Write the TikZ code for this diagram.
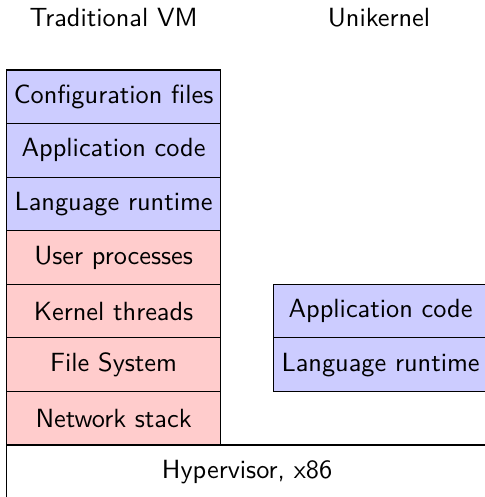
\documentclass[tikz,border=0pt]{standalone}
\begin{document}
\begin{tikzpicture}[x=0.38pt,y=-0.38pt,
  font=\sffamily,
  layer/.style={draw=black, line width=0.4pt, inner sep=0pt, outer sep=0pt,
    minimum width=81.4pt, minimum height=20.36pt, anchor=center},
  applayer/.style={layer, fill=blue!20},
  oslayer/.style={layer, fill=red!20},
  hwlayer/.style={layer, fill=white, minimum width=182.9pt},
  title/.style={inner sep=0pt, anchor=center}]
\useasboundingbox (0,0) rectangle (485,497);
\node[title] (tvm) at (113.6,17.9) {Traditional VM};
\node[title] (uk) at (379,17.9) {Unikernel};
% traditional VM stack
\node[applayer] (cfg) at (113.6,96.8) {Configuration files};
\node[applayer] (app) at (113.6,150.4) {Application code};
\node[applayer] (lang) at (113.6,203.9) {Language runtime};
\node[oslayer] (user) at (113.6,257.5) {User processes};
\node[oslayer] (kern) at (113.6,311.1) {Kernel threads};
\node[oslayer] (fs) at (113.6,364.6) {File System};
\node[oslayer] (net) at (113.6,418.2) {Network stack};
% unikernel stack
\node[applayer] (uapp) at (380.6,311.1) {Application code};
\node[applayer] (ulang) at (380.6,364.6) {Language runtime};
% hypervisor
\node[hwlayer] (hyp) at (247.1,471.8) {Hypervisor, x86};
\end{tikzpicture}
\end{document}
